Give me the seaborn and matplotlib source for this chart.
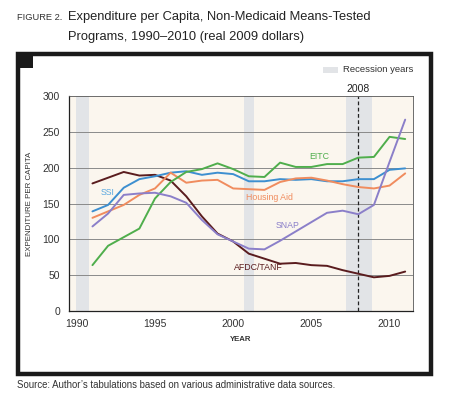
import matplotlib
matplotlib.use("Agg")
import matplotlib.pyplot as plt
import matplotlib.patches as mpatches
import numpy as np
import pandas as pd
import seaborn as sns

years = list(range(1991, 2012))
afdc = [178, 186, 194, 189, 190, 182, 160, 132, 108, 97, 80, 73, 66, 67, 64, 63, 57, 52, 47, 49, 55]
ssi = [139, 148, 172, 184, 188, 193, 195, 190, 193, 191, 181, 181, 184, 183, 184, 181, 181, 184, 184, 197, 199]
housing = [130, 139, 148, 162, 171, 193, 179, 182, 183, 171, 170, 169, 180, 185, 186, 182, 177, 173, 171, 175, 192]
eitc = [64, 91, 103, 115, 157, 180, 194, 198, 206, 198, 188, 187, 207, 201, 201, 205, 205, 214, 215, 243, 240]
snap = [118, 136, 162, 164, 165, 160, 151, 127, 107, 97, 87, 86, 98, 111, 124, 137, 140, 135, 148, 208, 267]

series = {"AFDC/TANF": afdc, "SSI": ssi, "Housing Aid": housing, "EITC": eitc, "SNAP": snap}
colors = {"AFDC/TANF": "#5a1c1e", "SSI": "#3d8fd0", "Housing Aid": "#f08c5e",
          "EITC": "#4fae4c", "SNAP": "#8b7fc9"}
label_pos = {"SSI": (1992.0, 165), "Housing Aid": (2002.3, 159), "EITC": (2005.5, 215),
             "SNAP": (2003.5, 120), "AFDC/TANF": (2001.6, 60)}
text_colors = {"AFDC/TANF": "#5a1c1e", "SSI": "#5aa8e0", "Housing Aid": "#f08c5e",
               "EITC": "#4fae4c", "SNAP": "#8b7fc9"}

recessions = [(1989.95, 1990.75), (2000.7, 2001.3), (2007.2, 2008.85)]

rows = []
for name, vals in series.items():
    for y, v in zip(years, vals):
        rows.append({"year": y, "value": v, "program": name})
df = pd.DataFrame(rows)

sns.set_style("white")
plt.rcParams["font.family"] = ["Liberation Sans", "DejaVu Sans"]

fig = plt.figure(figsize=(4.49, 4.13), dpi=100)
W, H = 449, 413

# outer frame
fig.patches.append(mpatches.Rectangle((18 / W, 1 - 374 / H), 413 / W, 320 / H,
                                      transform=fig.transFigure, fill=False,
                                      edgecolor="#1a1a1a", linewidth=3.2))
fig.patches.append(mpatches.Rectangle((16 / W, 1 - 68 / H), 17 / W, 16 / H,
                                      transform=fig.transFigure, facecolor="#1a1a1a",
                                      edgecolor="none"))

ax = fig.add_axes([69 / W, 1 - 311 / H, 344 / W, 215 / H])
ax.set_facecolor("#fbf6ee")
for a, b in recessions:
    ax.axvspan(a, b, color="#e2e4e7", lw=0, zorder=0)
for yv in [50, 100, 150, 200, 250]:
    ax.axhline(yv, color="#8a8a8a", lw=0.7, zorder=1)
ax.axvline(2008, color="#222222", lw=0.9, ls=(0, (3, 2)), zorder=2)

sns.lineplot(data=df, x="year", y="value", hue="program", palette=colors,
             linewidth=1.4, legend=False, ax=ax, zorder=3)

for name, (x, y) in label_pos.items():
    ax.text(x, y, name, color=text_colors[name], fontsize=6.3, ha="center", va="center")

ax.set_xlim(1989.5, 2011.5)
ax.set_ylim(0, 300)
ax.set_xticks([1990, 1995, 2000, 2005, 2010])
ax.set_xticks(np.arange(1989.5, 2012, 1), minor=True)
ax.tick_params(axis="x", which="major", length=0, labelsize=7.5, pad=6, colors="#333333")
ax.tick_params(axis="x", which="minor", length=3, color="#333333", direction="out")
ax.set_yticks([0, 50, 100, 150, 200, 250, 300])
ax.tick_params(axis="y", length=3, labelsize=7.5, colors="#333333", direction="out")
for s in ["left", "bottom"]:
    ax.spines[s].set_color("#222222")
    ax.spines[s].set_linewidth(0.9)
for s in ["top", "right"]:
    ax.spines[s].set_color("#555555")
    ax.spines[s].set_linewidth(0.6)
ax.set_xlabel("YEAR", fontsize=5.6, color="#333333", labelpad=5, fontweight="bold")
ax.set_ylabel("EXPENDITURE PER CAPITA", fontsize=5.7, color="#333333", labelpad=7)
ax.text(2008, 303, "2008", fontsize=7.5, color="#222222", ha="center", va="bottom")

# recession legend
fig.patches.append(mpatches.Rectangle((323 / W, 1 - 73 / H), 15 / W, 6 / H,
                                      transform=fig.transFigure, facecolor="#e2e4e7",
                                      edgecolor="none"))
fig.text(343 / W, 1 - 70 / H, "Recession years", fontsize=6.8, color="#333333", va="center")

fig.text(17 / W, 1 - 17 / H, "FIGURE 2.", fontsize=6.7, color="#333333", va="center")
fig.text(68 / W, 1 - 17 / H, "Expenditure per Capita, Non-Medicaid Means-Tested",
         fontsize=9.3, color="#222222", va="center")
fig.text(68 / W, 1 - 37 / H, "Programs, 1990\u20132010 (real 2009 dollars)",
         fontsize=9.3, color="#222222", va="center")
fig.text(17 / W, 1 - 385 / H,
         "Source: Author\u2019s tabulations based on various administrative data sources.",
         fontsize=6.9, color="#333333", va="center")

fig.savefig("out.png", dpi=100)
